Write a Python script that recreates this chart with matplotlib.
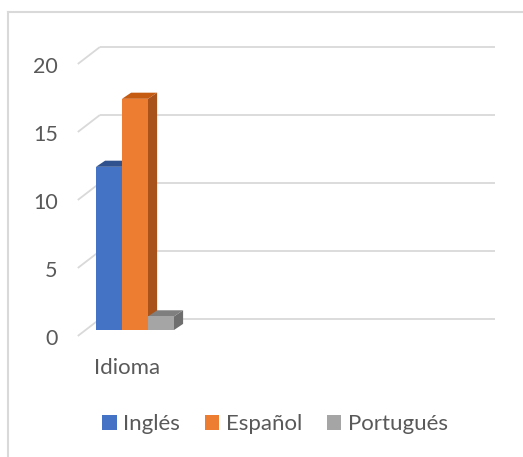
import matplotlib.pyplot as plt
from matplotlib.patches import Polygon, Patch
from matplotlib.lines import Line2D

# data
category = "Idioma"
series = ["Inglés", "Español", "Portugués"]
values = [12, 17, 1]
ticks = [0, 5, 10, 15, 20]

front_colors = ["#4472C4", "#ED7D31", "#A5A5A5"]
top_colors = ["#2F528F", "#C55A11", "#7F7F7F"]
side_colors = ["#2F528F", "#A9521A", "#6E6E6E"]

plt.rcParams['font.family'] = ['Lato', 'DejaVu Sans']

W, H = 523, 457
fig = plt.figure(figsize=(W / 100, H / 100), dpi=100)
ax = fig.add_axes([0, 0, 1, 1])
# one bar is one x unit wide, y is in value units
ax.set_xlim((0 - 96) / 26, (W - 96) / 26)
ax.set_ylim((330 - H) / 13.6, 330 / 13.6)
ax.axis("off")

# wall depth and bar depth (data units)
wdx, wdy = 0.85, 1.25
front_off = -0.44
bdx, bdy = 0.35, 0.45
wall_right = 15.35

grid_c = "#D9D9D9"
for t in ticks:
    yb = t + front_off + wdy
    ax.plot([-wdx + 0.15, 0.15], [t + front_off, yb], color=grid_c, lw=1.3, solid_capstyle="butt")
    ax.plot([0.15, wall_right], [yb, yb], color=grid_c, lw=1.3, solid_capstyle="butt")
    ax.text(-1.47, t + front_off - 0.25, str(t), ha="right", va="center", fontsize=15.5,
            color="#595959")

for i, (v, fc, tc, sc) in enumerate(zip(values, front_colors, top_colors, side_colors)):
    x0, x1 = i, i + 1
    # side face
    ax.add_patch(Polygon([(x1, 0), (x1 + bdx, bdy), (x1 + bdx, v + bdy), (x1, v)],
                         closed=True, facecolor=sc, edgecolor="none", zorder=2 + i))
    # top face
    ax.add_patch(Polygon([(x0, v), (x0 + bdx, v + bdy), (x1 + bdx, v + bdy), (x1, v)],
                         closed=True, facecolor=tc, edgecolor="none", zorder=2 + i))
    ax.bar(x0, v, width=1, align="edge", color=fc, edgecolor="none", zorder=2 + i)

ax.text(1.2, -2.8, category, ha="center", va="center", fontsize=16, color="#595959")

handles = [Patch(facecolor=c, edgecolor="none") for c in front_colors]
fig.legend(handles, series, loc="center", bbox_to_anchor=(275 / W, 1 - 424 / H), ncol=3,
           frameon=False, fontsize=16, handlelength=0.65, handleheight=0.65,
           handletextpad=0.3, columnspacing=1.1, labelcolor="#595959")

# chart border
fig.add_artist(Line2D([8 / W, 8 / W], [0, 1 - 12 / H], color=grid_c, lw=1.5))
fig.add_artist(Line2D([8 / W, 1], [1 - 12 / H, 1 - 12 / H], color=grid_c, lw=1.5))

fig.savefig("out.png", dpi=100)
